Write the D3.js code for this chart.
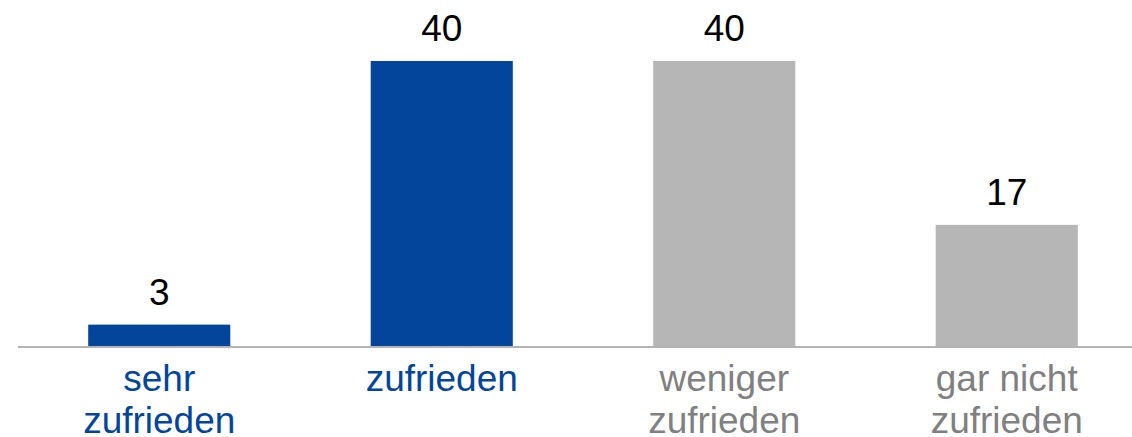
<!DOCTYPE html>
<html>
<head>
<meta charset="utf-8">
<script src="https://cdn.jsdelivr.net/npm/d3@7"></script>
<style>
  html, body { margin: 0; padding: 0; background: #fff; }
  svg { display: block; font-family: "Liberation Sans", Arial, sans-serif; }
</style>
</head>
<body>
<div id="chart"></div>
<script>
const categories = [["sehr", "zufrieden"], ["zufrieden"], ["weniger", "zufrieden"], ["gar nicht", "zufrieden"]];
const values = [3, 40, 40, 17];
const barColors = ["#03459a", "#03459a", "#b6b6b6", "#b6b6b6"];
const labelColors = ["#03459a", "#03459a", "#808080", "#808080"];

const w = 1132, h = 437;
const baseY = 346;

const svg = d3.select("#chart").append("svg")
  .attr("width", w)
  .attr("height", h);

const xScale = d3.scaleBand()
  .domain(d3.range(values.length))
  .range([18, 1148])
  .paddingInner(0.497)
  .paddingOuter(0.2485);

const yScale = d3.scaleLinear()
  .domain([0, 40])
  .range([baseY, 61]);

svg.selectAll("rect.bar")
  .data(values)
  .enter()
  .append("rect")
  .attr("class", "bar")
  .attr("x", (d, i) => xScale(i))
  .attr("y", d => yScale(d))
  .attr("width", xScale.bandwidth())
  .attr("height", d => baseY - yScale(d))
  .attr("fill", (d, i) => barColors[i]);

// baseline
svg.append("line")
  .attr("x1", 18).attr("x2", w)
  .attr("y1", baseY + 1).attr("y2", baseY + 1)
  .attr("stroke", "#b3b3b3")
  .attr("stroke-width", 2);

// value labels
svg.selectAll("text.val")
  .data(values)
  .enter()
  .append("text")
  .attr("class", "val")
  .attr("x", (d, i) => xScale(i) + xScale.bandwidth() / 2)
  .attr("y", d => yScale(d) - 20)
  .attr("text-anchor", "middle")
  .attr("font-size", 37)
  .attr("fill", "#000")
  .text(d => d);

// category labels
const cat = svg.selectAll("text.cat")
  .data(categories)
  .enter()
  .append("text")
  .attr("class", "cat")
  .attr("text-anchor", "middle")
  .attr("font-size", 37)
  .attr("fill", (d, i) => labelColors[i]);

cat.each(function(lines, i) {
  const cx = xScale(i) + xScale.bandwidth() / 2;
  d3.select(this).selectAll("tspan")
    .data(lines)
    .enter()
    .append("tspan")
    .attr("x", cx)
    .attr("y", (l, j) => 391 + j * 42)
    .text(l => l);
});
</script>
</body>
</html>
